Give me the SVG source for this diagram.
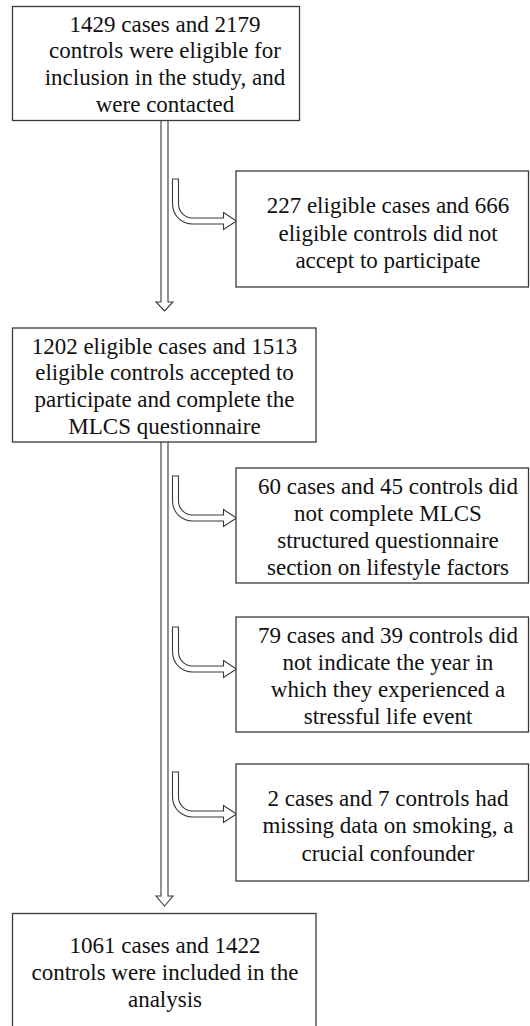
<svg xmlns="http://www.w3.org/2000/svg" width="530" height="1026" viewBox="0 0 530 1026">
<style>
.box{fill:#fff;stroke:#3a3a3a;stroke-width:1.3}
.arr{fill:#fff;stroke:#3a3a3a;stroke-width:1.1;stroke-linejoin:miter}
text{font-family:"Liberation Serif","Times New Roman",serif;font-size:23px;fill:#111;text-anchor:middle}
</style>
<defs>
<path id="bend" class="arr" d="M0,0 L0,25 A20,20 0 0 0 20,45 L51,45 L51,50.5 L64,42 L51,33.5 L51,39 L20,39 A14,14 0 0 1 6,25 L6,0 Z"/>
</defs>
<rect width="530" height="1026" fill="#fff"/>
<g id="connectors">
<path class="arr" d="M161,120.5 L161,302 L156,302 L164.5,311 L173,302 L168,302 L168,120.5"/>
<path class="arr" d="M161,442 L161,896 L156,896 L164.5,906 L173,896 L168,896 L168,442"/>
<use href="#bend" x="172.5" y="179"/>
<use href="#bend" x="172.5" y="476"/>
<use href="#bend" x="172.5" y="627"/>
<use href="#bend" x="172.5" y="772"/>
</g>
<g id="n1" font-family="Liberation Serif, serif">
<rect class="box" x="12.5" y="6.5" width="287" height="114"/>
<text x="165" y="31.5">1429 cases and 2179</text>
<text x="165" y="58.3">controls were eligible for</text>
<text x="165" y="85.1">inclusion in the study, and</text>
<text x="165" y="111.9">were contacted</text>
</g>
<g id="n2">
<rect class="box" x="236" y="171" width="292.5" height="116"/>
<text x="388" y="213.3">227 eligible cases and 666</text>
<text x="388" y="240.6">eligible controls did not</text>
<text x="388" y="267.9">accept to participate</text>
</g>
<g id="n3">
<rect class="box" x="12.5" y="328" width="303.5" height="114"/>
<text x="164.5" y="353.5">1202 eligible cases and 1513</text>
<text x="164.5" y="380.3">eligible controls accepted to</text>
<text x="164.5" y="407.1">participate and complete the</text>
<text x="164.5" y="433.9">MLCS questionnaire</text>
</g>
<g id="n4">
<rect class="box" x="236" y="468" width="292.5" height="115"/>
<text x="388" y="493.5">60 cases and 45 controls did</text>
<text x="388" y="520.8">not complete MLCS</text>
<text x="388" y="548.1">structured questionnaire</text>
<text x="388" y="575.4">section on lifestyle factors</text>
</g>
<g id="n5">
<rect class="box" x="236" y="617" width="292.5" height="115"/>
<text x="388" y="642.5">79 cases and 39 controls did</text>
<text x="388" y="669.8">not indicate the year in</text>
<text x="388" y="697.1">which they experienced a</text>
<text x="388" y="724.4">stressful life event</text>
</g>
<g id="n6">
<rect class="box" x="236" y="764" width="292.5" height="117"/>
<text x="388" y="806">2 cases and 7 controls had</text>
<text x="388" y="833.3">missing data on smoking, a</text>
<text x="388" y="860.6">crucial confounder</text>
</g>
<g id="n7">
<rect class="box" x="12.5" y="913.5" width="303.5" height="200"/>
<text x="165" y="952.7">1061 cases and 1422</text>
<text x="165" y="980">controls were included in the</text>
<text x="165" y="1007.3">analysis</text>
</g>
</svg>
